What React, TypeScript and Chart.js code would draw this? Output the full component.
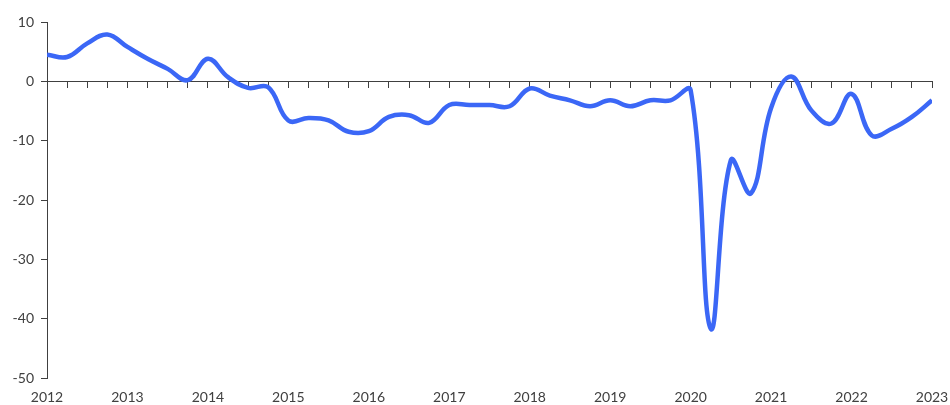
import React, { useEffect, useRef } from "react";
import { Chart, registerables } from "chart.js";

Chart.register(...registerables);

const yearLabels = ["2012", "2013", "2014", "2015", "2016", "2017", "2018", "2019", "2020", "2021", "2022", "2023"];
const quarterIndex = Array.from({ length: 45 }, (_, i) => i);
const values = [
  4.5, 4.1, 6.4, 7.9, 5.8, 3.8, 2.1, 0.2,
  3.8, 0.7, -1.1, -1.0, -6.6, -6.2, -6.6, -8.5,
  -8.4, -6.0, -5.7, -7.0, -4.0, -4.0, -4.0, -4.2,
  -1.2, -2.4, -3.2, -4.2, -3.2, -4.2, -3.2, -3.2,
  -1.5, -41.7, -13.3, -18.9, -4.5, 0.8, -4.9, -7.1,
  -2.1, -9.1, -8.0, -6.0, -3.2,
];
const yTicks = [10, 0, -10, -20, -30, -40, -50];

export default function App() {
  const ref = useRef<HTMLCanvasElement | null>(null);
  useEffect(() => {
    if (!ref.current) return;
    const font = { family: "Lato, 'Open Sans', sans-serif", size: 14 };
    const axisColor = "#404040";
    const chart = new Chart(ref.current, {
      type: "line",
      data: {
        datasets: [
          {
            data: quarterIndex.map((q, i) => ({ x: q, y: values[i] })),
            borderColor: "#3b67f6",
            borderWidth: 4.5,
            pointRadius: 0,
            tension: 0.4,
            fill: false,
          },
        ],
      },
      options: {
        animation: false,
        responsive: true,
        maintainAspectRatio: false,
        layout: { padding: { left: 0, right: 18, top: 22, bottom: 0 } },
        plugins: { legend: { display: false }, tooltip: { enabled: false } },
        scales: {
          x: {
            type: "linear",
            position: "bottom",
            min: 0,
            max: 44,
            border: { display: false },
            grid: { display: false, drawTicks: false },
            ticks: {
              stepSize: 4,
              autoSkip: false,
              maxRotation: 0,
              padding: 11,
              color: axisColor,
              font,
              callback: (v: any) => yearLabels[Math.round(Number(v) / 4)] ?? "",
            },
            afterFit: (s: any) => {
              s.height = 27;
              s.paddingLeft = 0;
              s.paddingRight = 0;
            },
          },
          x2: {
            type: "linear",
            position: { y: 0 } as any,
            min: 0,
            max: 44,
            border: { display: true, color: axisColor, width: 1 },
            grid: { drawOnChartArea: false, drawTicks: true, tickLength: 6, color: axisColor },
            ticks: { display: false, stepSize: 1, autoSkip: false, maxTicksLimit: 100 },
            afterFit: (s: any) => {
              s.paddingLeft = 0;
              s.paddingRight = 0;
            },
          },
          y: {
            type: "linear",
            min: -50,
            max: 10,
            border: { display: true, color: axisColor, width: 1 },
            grid: { drawOnChartArea: false, drawTicks: true, tickLength: 6, color: axisColor },
            ticks: {
              stepSize: 10,
              padding: 7,
              color: axisColor,
              font,
              callback: (v: any) => (yTicks.includes(Number(v)) ? String(v) : ""),
            },
            afterFit: (s: any) => {
              s.width = 47;
              s.paddingTop = 0;
              s.paddingBottom = 0;
            },
          },
        },
      },
    });
    return () => chart.destroy();
  }, []);
  return (
    <div style={{ position: "fixed", left: 0, top: 0, width: 950, height: 405, background: "#fff" }}>
      <canvas ref={ref} />
    </div>
  );
}
